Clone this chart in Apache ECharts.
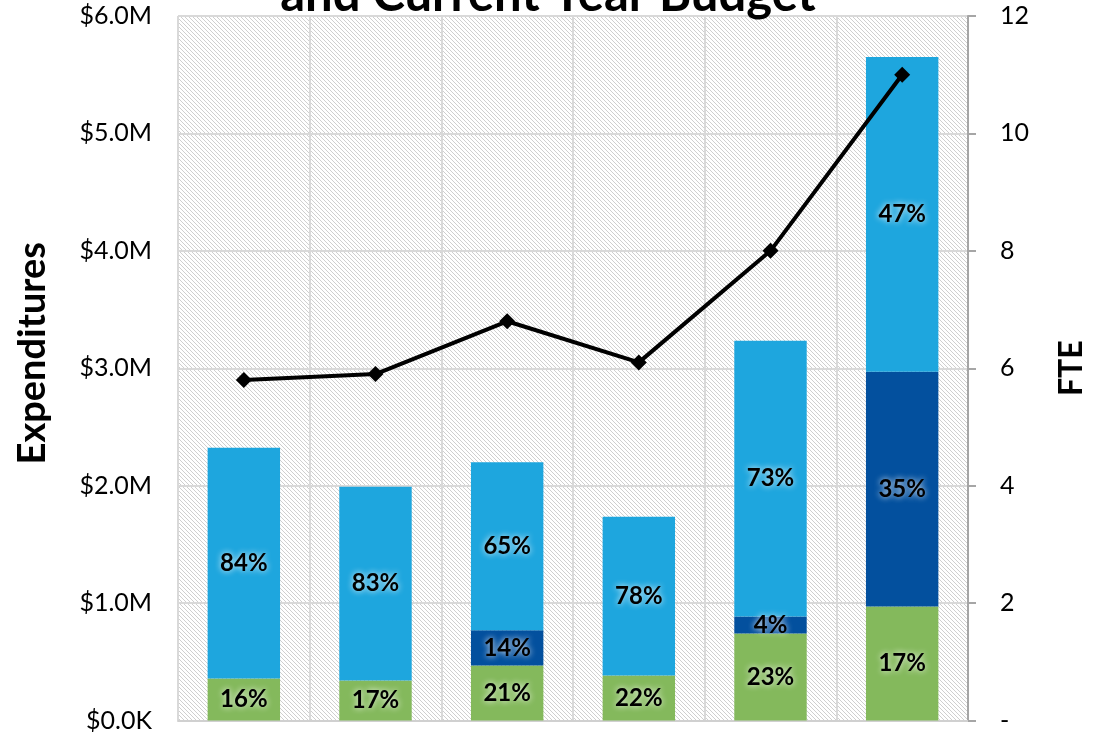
<!DOCTYPE html>
<html>
<head>
<meta charset="utf-8">
<script src="https://cdn.jsdelivr.net/npm/echarts@6/dist/echarts.min.js"></script>
<style>
html,body{margin:0;padding:0;background:#fff;overflow:hidden;}
#chart{width:1096px;height:733px;}
</style>
</head>
<body>
<div id="chart"></div>
<script>
// ---- data ----
const categories = ['Year 1', 'Year 2', 'Year 3', 'Year 4', 'Year 5', 'Current Year Budget'];
const greenValues = [357000, 340000, 468000, 383000, 740000, 970000];
const darkBlueValues = [0, 0, 300000, 0, 145000, 2000000];
const lightBlueValues = [1966000, 1650000, 1432000, 1353000, 2349000, 2680000];
const greenLabels = ['16%', '17%', '21%', '22%', '23%', '17%'];
const darkBlueLabels = ['', '', '14%', '', '4%', '35%'];
const lightBlueLabels = ['84%', '83%', '65%', '78%', '73%', '47%'];
const fteValues = [5.8, 5.9, 6.8, 6.1, 8.0, 11.0];
const titleText = 'and Current Year Budget';
const leftAxisName = 'Expenditures';
const rightAxisName = 'FTE';

// hatch pattern
const pc = document.createElement('canvas');
pc.width = 4; pc.height = 4;
const pctx = pc.getContext('2d');
pctx.fillStyle = '#ffffff';
pctx.fillRect(0, 0, 4, 4);
pctx.fillStyle = '#cfcfcf';
for (let i = 0; i < 4; i++) pctx.fillRect(i, i, 1, 1);

const FONT = 'Lato, "Open Sans", sans-serif';

function labelCfg(arr) {
  return {
    show: true,
    position: 'inside',
    fontFamily: FONT,
    fontWeight: 'bold',
    fontSize: 24,
    color: '#000',
    textShadowColor: 'rgba(255,255,255,0.95)',
    textShadowBlur: 6,
    formatter: p => arr[p.dataIndex]
  };
}

const chart = echarts.init(document.getElementById('chart'), null, {renderer: 'canvas'});
chart.setOption({
  animation: false,
  title: {
    text: titleText,
    left: 'center',
    top: -29,
    padding: 0,
    textStyle: {fontFamily: FONT, fontWeight: 'bold', fontSize: 49, color: '#000'}
  },
  grid: {
    left: 178, right: 126, top: 16, bottom: 12,
    show: true,
    borderWidth: 0,
    backgroundColor: {image: pc, repeat: 'repeat'}
  },
  xAxis: {
    type: 'category',
    data: categories,
    axisLine: {show: true, lineStyle: {color: '#d0d0d0', width: 2}},
    axisTick: {show: false},
    axisLabel: {show: false},
    splitLine: {show: true, interval: 0, lineStyle: {color: '#d9d9d9', width: 2}}
  },
  yAxis: [
    {
      type: 'value',
      min: 0, max: 6000000, interval: 1000000,
      name: leftAxisName,
      nameLocation: 'middle',
      nameRotate: 90,
      nameGap: 126,
      nameTextStyle: {fontFamily: FONT, fontWeight: 'bold', fontSize: 38, color: '#000', padding: [0, 0, 0, 30]},
      axisLine: {show: false},
      axisTick: {show: false},
      axisLabel: {
        fontFamily: FONT, fontSize: 25, color: '#000', margin: 26,
        formatter: v => v === 0 ? '$0.0K' : '$' + (v / 1e6).toFixed(1) + 'M'
      },
      splitLine: {show: true, lineStyle: {color: '#d9d9d9', width: 2}}
    },
    {
      type: 'value',
      min: 0, max: 12, interval: 2,
      position: 'right',
      name: rightAxisName,
      nameLocation: 'middle',
      nameRotate: 90,
      nameGap: 88,
      nameTextStyle: {fontFamily: FONT, fontWeight: 'bold', fontSize: 32, color: '#000'},
      axisLine: {show: true, lineStyle: {color: '#a6a6a6', width: 2}},
      axisTick: {show: true, inside: false, length: 8, lineStyle: {color: '#a6a6a6', width: 2}},
      axisLabel: {
        fontFamily: FONT, fontSize: 25, color: '#000', margin: 32,
        formatter: v => v === 0 ? '-' : String(v)
      },
      splitLine: {show: false}
    }
  ],
  series: [
    {
      name: 'Green', type: 'bar', stack: 'exp', barWidth: '55%',
      data: greenValues,
      itemStyle: {color: '#84b95c'},
      label: labelCfg(greenLabels)
    },
    {
      name: 'Dark blue', type: 'bar', stack: 'exp',
      data: darkBlueValues,
      itemStyle: {color: '#03509e'},
      label: labelCfg(darkBlueLabels)
    },
    {
      name: 'Light blue', type: 'bar', stack: 'exp',
      data: lightBlueValues,
      itemStyle: {color: '#1ea6de'},
      label: labelCfg(lightBlueLabels)
    },
    {
      name: 'FTE', type: 'line', yAxisIndex: 1,
      data: fteValues,
      symbol: 'diamond', symbolSize: 16,
      lineStyle: {color: '#000', width: 4},
      itemStyle: {color: '#000'},
      z: 10
    }
  ]
});
</script>
</body>
</html>
